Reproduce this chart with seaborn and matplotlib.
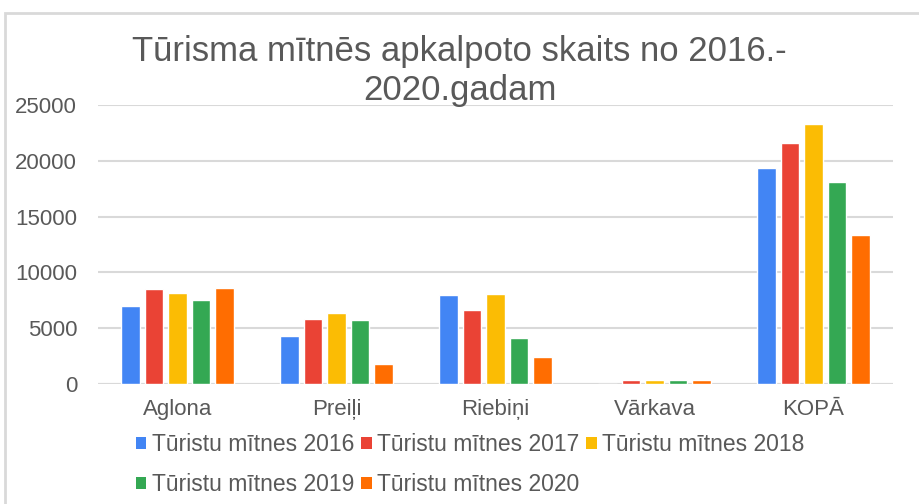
import pandas as pd
import matplotlib.pyplot as plt
import seaborn as sns
from matplotlib.patches import Rectangle, Patch

categories = ["Aglona", "Preiļi", "Riebiņi", "Vārkava", "KOPĀ"]
series = ["Tūristu mītnes 2016", "Tūristu mītnes 2017", "Tūristu mītnes 2018",
          "Tūristu mītnes 2019", "Tūristu mītnes 2020"]
v2016 = [7000, 4300, 7950, 0, 19380]
v2017 = [8480, 5860, 6670, 330, 21570]
v2018 = [8180, 6360, 8040, 330, 23270]
v2019 = [7500, 5770, 4160, 330, 18100]
v2020 = [8570, 1830, 2390, 330, 13320]
colors = ["#4285F4", "#EA4335", "#FBBC04", "#34A853", "#FF6D01"]

rows = []
for name, vals in zip(series, [v2016, v2017, v2018, v2019, v2020]):
    for cat, v in zip(categories, vals):
        rows.append({"Pašvaldība": cat, "Sērija": name, "Skaits": v})
df = pd.DataFrame(rows)

sns.set_style("white")
plt.rcParams["font.family"] = ["Liberation Sans", "DejaVu Sans"]
text_col = "#595959"
grid_col = "#d9d9d9"

fig = plt.figure(figsize=(9.19, 5.04), dpi=100)
ax = fig.add_axes([98 / 919, 120 / 504, 795 / 919, 279 / 504])

sns.barplot(data=df, x="Pašvaldība", y="Skaits", hue="Sērija", palette=colors,
            saturation=1, width=0.74, gap=0.2, ax=ax, legend=False, zorder=3)

ax.set_ylim(0, 25000)
ax.set_yticks(range(0, 25001, 5000))
ax.set_xlim(-0.5, 4.5)
ax.yaxis.grid(True, color=grid_col, linewidth=1.5, zorder=0)
ax.set_axisbelow(True)
for s in ax.spines.values():
    s.set_visible(False)
ax.axhline(0, color=grid_col, linewidth=1.5, zorder=1)
ax.set_xlabel("")
ax.set_ylabel("")
ax.tick_params(axis="both", length=0, labelsize=16, labelcolor=text_col)
ax.tick_params(axis="y", pad=15)
ax.tick_params(axis="x", pad=11)

fig.suptitle("Tūrisma mītnēs apkalpoto skaits no 2016.-\n2020.gadam",
             x=0.5, y=0.93, fontsize=25, color=text_col, linespacing=1.22)

handles = [Patch(facecolor=c, edgecolor="none") for c in colors]
order = [0, 3, 1, 4, 2]
fig.legend([handles[i] for i in order], [series[i] for i in order],
           ncol=3, loc="upper left", bbox_to_anchor=(136 / 919, 1 - 433 / 504),
           frameon=False, fontsize=16.5, labelcolor=text_col,
           handlelength=0.45, handleheight=0.45, handletextpad=0.25,
           columnspacing=0.3, labelspacing=0.75, borderaxespad=0, borderpad=0)

fig.patches.append(Rectangle((5 / 919, -0.1), 1.2, 1.1 - 13 / 504,
                             transform=fig.transFigure, fill=False,
                             edgecolor="#d9d9d9", linewidth=2))

fig.savefig("out.png", dpi=100)
